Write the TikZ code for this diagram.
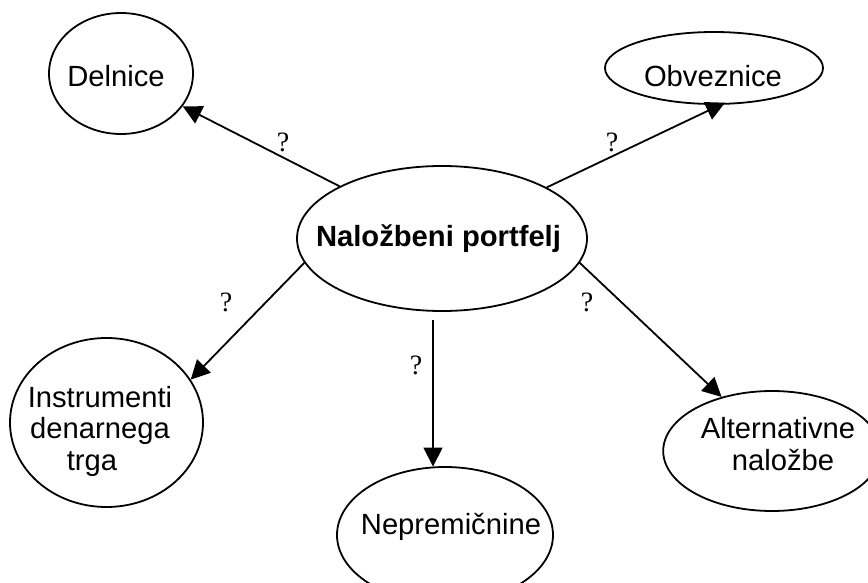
\documentclass[tikz,border=0pt]{standalone}
\usepackage{fontspec}
\setmainfont{Liberation Sans}
\newfontfamily\qfont{Liberation Serif}
\usetikzlibrary{shapes.geometric,arrows.meta,calc}
\begin{document}
\begin{tikzpicture}[x=0.5pt,y=-0.5pt,
  bubble/.style={ellipse,draw,line width=0.9pt,inner sep=0pt},
  lbl/.style={font=\fontsize{14.6}{15.75}\selectfont,align=center,inner sep=0pt},
  qm/.style={font=\qfont\fontsize{14}{16}\selectfont,inner sep=0pt},
  link/.style={line width=0.9pt,-{Triangle[length=9.5pt,width=9.5pt]}}]
\useasboundingbox (0,0) rectangle (868,583);
\clip (0,0) rectangle (868,583);

% outlines of the six bubbles
\node[bubble,minimum width=145pt,minimum height=72.5pt] (c) at (442,238.5) {};
\node[bubble,minimum width=72pt,minimum height=60.5pt] (d) at (121,73.5) {};
\node[bubble,minimum width=109pt,minimum height=36pt] (o) at (714,68) {};
\node[bubble,minimum width=96.5pt,minimum height=84.5pt] (i) at (106.5,422.5) {};
\node[bubble,minimum width=108.8pt,minimum height=60pt] (a) at (772,451) {};
\node[bubble,minimum width=108pt,minimum height=68pt] (n) at (445,535) {};

% texts inside the bubbles (multi-line ones sit on their last baseline)
\node[lbl,font=\fontsize{14.6}{15.75}\selectfont\bfseries,anchor=base] (ct) at (438.5,247) {Naložbeni portfelj};
\node[lbl,anchor=base] (dt) at (116,87) {Delnice};
\node[lbl,anchor=base] (ot) at (713,87) {Obveznice};
\node[lbl,anchor=base] (nt) at (451,534) {Nepremičnine};
\node[lbl,anchor=base] (it) at (100,470) {Instrumenti\\denarnega\\trga\hspace*{8pt}};
\node[lbl,anchor=base] (at) at (778,470) {Alternativne\\\hspace*{5pt}naložbe};

% arrows from the centre
\draw[link] (c.153) -- (d.-28);
\draw[link,shorten >=-2.5pt] (c.26) -- (o.-80);
\draw[link] (c.190) -- (i.27);
\draw[link] (c.-10) -- (a.133);
\coordinate (cs) at (433,320);
\draw[link] (cs) -- (cs |- n.100);

% question marks on the arrows
\node[qm] (q1) at (283,142) {?};
\node[qm] (q2) at (612,142) {?};
\node[qm] (q3) at (226,302) {?};
\node[qm] (q4) at (587,302) {?};
\node[qm] (q5) at (416,365) {?};
\end{tikzpicture}
\end{document}
